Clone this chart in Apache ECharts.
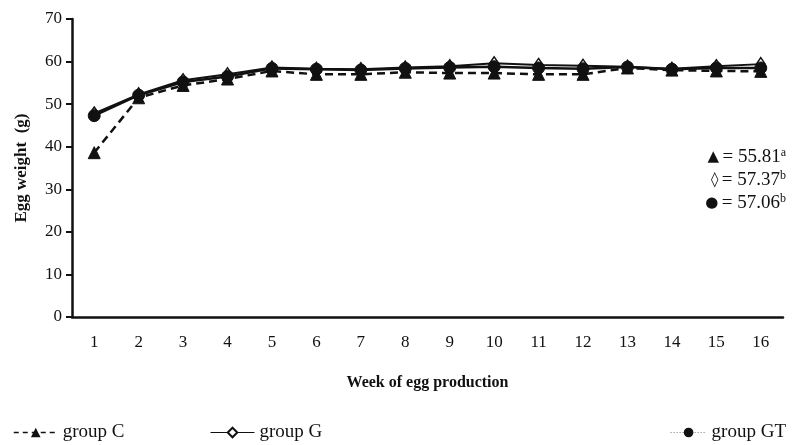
<!DOCTYPE html>
<html style="height: 100%">
<head>
<meta charset="utf-8">
<script src="https://cdn.jsdelivr.net/npm/echarts@6/dist/echarts.min.js"></script>
</head>
<body style="height: 100%; margin: 0; background: #fff">
<div id="container" style="width: 797px; height: 445px"></div>
<script type="text/javascript">
var weeks = ['1','2','3','4','5','6','7','8','9','10','11','12','13','14','15','16'];
var groupC  = [38.6, 51.5, 54.4, 55.9, 57.8, 57.0, 57.0, 57.5, 57.3, 57.3, 57.0, 57.0, 58.5, 58.0, 57.8, 57.7];
var groupG  = [47.8, 52.3, 55.6, 57.0, 58.6, 58.3, 58.2, 58.6, 58.9, 59.6, 59.2, 59.0, 58.8, 58.3, 58.9, 59.4];
var groupGT = [47.3, 52.1, 55.2, 56.5, 58.4, 58.2, 58.0, 58.4, 58.6, 58.8, 58.5, 58.3, 58.7, 58.2, 58.5, 58.5];
var yTicks = [0, 70, 10];
var means = ['55.81', '57.37', '57.06'];
var marks = ['a', 'b', 'b'];
var icons = ['▲', '◊', '●'];

var serif = 'Liberation Serif';
var dom = document.getElementById('container');
var myChart = echarts.init(dom, null, {renderer: 'canvas'});

var txt = [];
for (var i = 0; i < means.length; i++) {
    txt.push({
        type: 'text',
        right: 11,
        top: 147 + i * 23,
        style: {
            text: '{i|' + icons[i] + '} {n|= ' + means[i] + '}{s|' + marks[i] + '}',
            rich: {
                i: {fontFamily: 'DejaVu Sans', fontSize: 15, fill: '#111'},
                n: {fontFamily: serif, fontSize: 19, fill: '#111'},
                s: {fontFamily: serif, fontSize: 12, fill: '#111', verticalAlign: 'top', padding: [0, 0, 8, 0]}
            }
        }
    });
}

var legendBase = {
    bottom: -2,
    itemWidth: 44,
    itemHeight: 12,
    textStyle: {fontFamily: serif, fontSize: 19, color: '#111'}
};

option = {
    animation: false,
    backgroundColor: '#fff',
    grid: {left: 72, right: 14, top: 19, bottom: 128},
    legend: [
        Object.assign({}, legendBase, {left: 8, data: ['group C'], lineStyle: {type: [5, 4], width: 1.5}}),
        Object.assign({}, legendBase, {left: 205, data: ['group G'], lineStyle: {type: 'solid', width: 1}}),
        Object.assign({}, legendBase, {right: 6, itemWidth: 36, data: ['group GT'],
            lineStyle: {type: [1, 2], width: 1, color: '#777'}})
    ],
    graphic: txt,
    xAxis: {
        type: 'category',
        data: weeks,
        boundaryGap: true,
        name: 'Week of egg production',
        nameLocation: 'middle',
        nameGap: 58,
        nameMoveOverlap: false,
        nameTextStyle: {fontFamily: serif, fontSize: 16, fontWeight: 'bold', color: '#111'},
        axisLine: {lineStyle: {color: '#111', width: 2.5}},
        axisTick: {alignWithLabel: false, length: 6, lineStyle: {color: '#111', width: 2}},
        axisLabel: {fontFamily: serif, fontSize: 17, color: '#111', margin: 17}
    },
    yAxis: {
        type: 'value',
        min: yTicks[0],
        max: yTicks[1],
        interval: yTicks[2],
        name: 'Egg weight  (g)',
        nameLocation: 'middle',
        nameGap: 42,
        nameTextStyle: {fontFamily: serif, fontSize: 17, fontWeight: 'bold', color: '#111'},
        splitLine: {show: false},
        axisLine: {show: true, lineStyle: {color: '#111', width: 2.5}},
        axisTick: {show: true, length: 6, lineStyle: {color: '#111', width: 2}},
        axisLabel: {fontFamily: serif, fontSize: 17, color: '#111', margin: 10}
    },
    series: [
        {
            name: 'group C',
            type: 'line',
            data: groupC,
            symbol: 'triangle',
            symbolSize: 12,
            z: 3,
            itemStyle: {color: '#111', borderColor: '#111'},
            lineStyle: {color: '#111', width: 2.5, type: [8, 5]}
        },
        {
            name: 'group G',
            type: 'line',
            data: groupG,
            symbol: 'diamond',
            symbolSize: [9, 13],
            z: 2,
            itemStyle: {color: '#fff', borderColor: '#111', borderWidth: 1.5},
            lineStyle: {color: '#111', width: 2}
        },
        {
            name: 'group GT',
            type: 'line',
            data: groupGT,
            symbol: 'circle',
            symbolSize: 12,
            z: 4,
            itemStyle: {color: '#111', borderColor: '#111'},
            lineStyle: {color: '#111', width: 2.5}
        }
    ]
};
if (option && typeof option === 'object') {
    myChart.setOption(option, true);
}
</script>
</body>
</html>
